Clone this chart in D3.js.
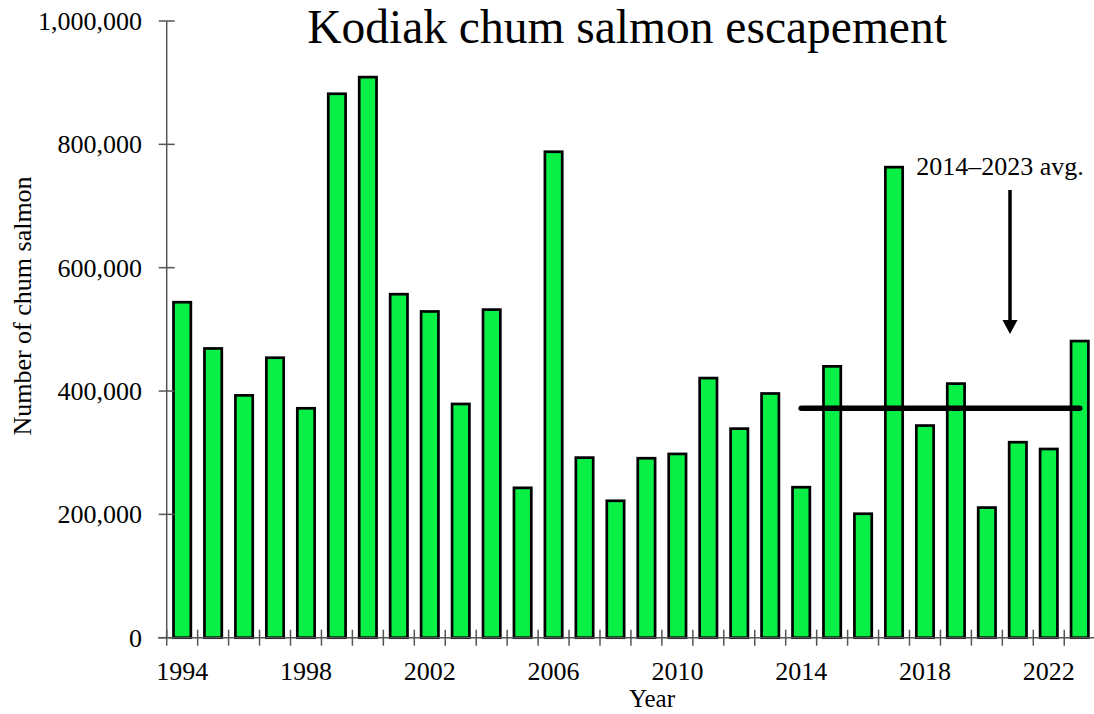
<!DOCTYPE html>
<html>
<head>
<meta charset="utf-8">
<script src="https://cdn.jsdelivr.net/npm/d3@7"></script>
<style>
  html, body { margin: 0; padding: 0; background: #fff; }
  svg { display: block; }
  text { font-family: "Liberation Serif", "Times New Roman", serif; fill: #000; }
</style>
</head>
<body>
<svg id="chart" width="1094" height="714"></svg>
<script>
// ---- data ----
const years = [1994,1995,1996,1997,1998,1999,2000,2001,2002,2003,2004,2005,2006,2007,2008,2009,2010,2011,2012,2013,2014,2015,2016,2017,2018,2019,2020,2021,2022,2023];
const escapement = [544000,469000,393000,454000,372000,882000,909000,557000,529000,379000,532000,243000,788000,292000,222000,291000,298000,421000,339000,396000,244000,440000,201000,763000,344000,412000,211000,317000,306000,481000];
const yTickValues = [0,200000,400000,600000,800000,1000000];
const xTickLabels = [1994,1998,2002,2006,2010,2014,2018,2022];
const avgStart = 2014, avgEnd = 2023;
const titleText = "Kodiak chum salmon escapement";
const yLabel = "Number of chum salmon";
const xLabel = "Year";
const avgLabel = "2014\u20132023 avg.";

// ---- layout ----
const svg = d3.select("#chart");
const x0 = 166.7, x1 = 1095.2, yTop = 21, yBottom = 637.7;
const pIn = 0.44, pOut = 0.22;

const x = d3.scaleBand().domain(years).range([x0, x1]).paddingInner(pIn).paddingOuter(pOut);
const y = d3.scaleLinear().domain([0, 1000000]).range([yBottom, yTop]);
const step = x.step();
const axisColor = "#555";

// title
svg.append("text")
  .attr("x", 627).attr("y", 43)
  .attr("text-anchor", "middle")
  .style("font-size", "47.5px")
  .text(titleText);

// bars
svg.append("g").selectAll("rect")
  .data(years.map((yr, i) => ({yr, v: escapement[i]})))
  .join("rect")
  .attr("x", d => x(d.yr))
  .attr("width", x.bandwidth())
  .attr("y", d => y(d.v))
  .attr("height", d => y(0) - y(d.v))
  .attr("fill", "#08f046")
  .attr("stroke", "#000")
  .attr("stroke-width", 2.7);

// y axis
const gy = svg.append("g");
gy.append("line")
  .attr("x1", x0).attr("x2", x0)
  .attr("y1", y(1000000)).attr("y2", y(0))
  .attr("stroke", axisColor).attr("stroke-width", 1.5);
gy.selectAll("line.tick").data(yTickValues).join("line")
  .attr("class", "tick")
  .attr("x1", x0 - 8).attr("x2", x0 + 8)
  .attr("y1", d => y(d)).attr("y2", d => y(d))
  .attr("stroke", axisColor).attr("stroke-width", 1.5);
gy.selectAll("text").data(yTickValues).join("text")
  .attr("x", 142).attr("y", d => y(d))
  .attr("dy", "0.34em")
  .attr("text-anchor", "end")
  .style("font-size", "26px")
  .text(d => d3.format(",")(d));

// x axis
const gx = svg.append("g");
gx.append("line")
  .attr("x1", 158).attr("x2", 1094)
  .attr("y1", y(0)).attr("y2", y(0))
  .attr("stroke", axisColor).attr("stroke-width", 1.5);
const boundaries = years.map(yr => x(yr) - step * pIn / 2).concat([x(years[years.length-1]) + x.bandwidth() + step * pIn / 2]);
gx.selectAll("line.tick").data(boundaries).join("line")
  .attr("class", "tick")
  .attr("x1", d => d).attr("x2", d => d)
  .attr("y1", y(0) - 8).attr("y2", y(0) + 8)
  .attr("stroke", axisColor).attr("stroke-width", 1.5);
gx.selectAll("text").data(xTickLabels).join("text")
  .attr("x", d => x(d) + x.bandwidth() / 2)
  .attr("y", 680)
  .attr("text-anchor", "middle")
  .style("font-size", "26px")
  .text(d => d);

// axis titles
svg.append("text")
  .attr("x", 652).attr("y", 707)
  .attr("text-anchor", "middle")
  .style("font-size", "25px")
  .text(xLabel);
svg.append("text")
  .attr("transform", "translate(31,306) rotate(-90)")
  .attr("text-anchor", "middle")
  .style("font-size", "26px")
  .text(yLabel);

// average line
const avgVals = years.map((yr, i) => ({yr, v: escapement[i]})).filter(d => d.yr >= avgStart && d.yr <= avgEnd).map(d => d.v);
const avg = d3.mean(avgVals);
svg.append("line")
  .attr("x1", x(avgStart) + x.bandwidth() / 2)
  .attr("x2", x(avgEnd) + x.bandwidth() / 2)
  .attr("y1", y(avg)).attr("y2", y(avg))
  .attr("stroke", "#000").attr("stroke-width", 5.5)
  .attr("stroke-linecap", "round");

// annotation
svg.append("text")
  .attr("x", 1000).attr("y", 175)
  .attr("text-anchor", "middle")
  .style("font-size", "26px")
  .text(avgLabel);
const ax = 1010;
svg.append("line")
  .attr("x1", ax).attr("x2", ax)
  .attr("y1", 190).attr("y2", 322)
  .attr("stroke", "#000").attr("stroke-width", 3.5);
svg.append("path")
  .attr("d", d3.line()([[ax - 7.5, 320], [ax + 7.5, 320], [ax, 334]]) + "Z")
  .attr("fill", "#000");
</script>
</body>
</html>
